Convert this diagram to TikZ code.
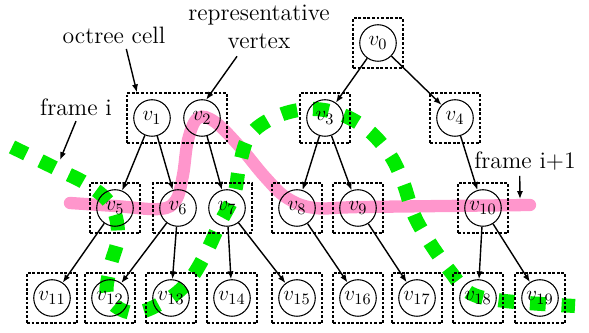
\documentclass[tikz,border=0pt]{standalone}
\usepackage{amsmath}
\usetikzlibrary{arrows.meta,fit}
\definecolor{pinkpath}{RGB}{255,150,204}
\definecolor{greenpath}{RGB}{0,235,0}
\pgfdeclarelayer{background}
\pgfsetlayers{background,main}
\tikzset{
  vert/.style={circle, draw, line width=0.6pt, minimum size=20.8pt, inner sep=0pt, font=\fontsize{13}{15}\selectfont},
  cellbox/.style={draw, line width=0.8pt, dash pattern=on 1.6pt off 1pt, inner sep=3.5pt},
  edge/.style={-{Latex[length=4.5pt,width=3.5pt]}, line width=0.8pt},
  lbl/.style={font=\fontsize{13.5}{16}\selectfont, align=center, inner sep=1pt},
  framepink/.style={pinkpath, line width=7pt, line cap=round},
  framegreen/.style={greenpath, line width=8pt, dash pattern=on 9pt off 9pt}
}
\begin{document}
\begin{tikzpicture}[x=0.02cm, y=-0.02cm]
    \useasboundingbox (0,0) rectangle (589,333);

    % Root
    \node[vert] (v0) at (378,43) {$v_0$};
    \node[cellbox, fit=(v0)] (c0) {};

    % Level 1
    \node[vert] (v1) at (152,118) {$v_1$};
    \node[vert] (v2) at (202,118) {$v_2$};
    \node[vert] (v3) at (325,118) {$v_3$};
    \node[vert] (v4) at (455,118) {$v_4$};
    \node[cellbox, fit=(v1)(v2)] (c1and2) {};
    \node[cellbox, fit=(v3)] (c3) {};
    \node[cellbox, fit=(v4)] (c4) {};

    % Level 2
    \node[vert] (v5) at (115,208) {$v_5$};
    \node[vert] (v6) at (178,208) {$v_6$};
    \node[vert] (v7) at (227,208) {$v_7$};
    \node[vert] (v8) at (297,208) {$v_8$};
    \node[vert] (v9) at (358,208) {$v_9$};
    \node[vert] (v10) at (483,208) {$v_{10}$};
    \node[cellbox, fit=(v5)] (c5) {};
    \node[cellbox, fit=(v6)(v7)] (c6and7) {};
    \node[cellbox, fit=(v8)] (c8) {};
    \node[cellbox, fit=(v9)] (c9) {};
    \node[cellbox, fit=(v10)] (c10) {};

    % Level 3
    \foreach \n/\x in {11/52, 12/110, 13/171, 14/232, 15/297, 16/358, 17/417, 18/478, 19/540} {
        \node[vert] (v\n) at (\x,298) {$v_{\n}$};
        \node[cellbox, fit=(v\n)] (c\n) {};
    }

    % Tree edges
    \foreach \a/\b in {v0/v3, v0/v4, v1/v5, v1/v6, v2/v7, v3/v8, v3/v9, v4/v10,
                       v5/v11, v6/v12, v6/v13, v7/v14, v7/v15, v8/v16, v9/v17,
                       v10/v18, v10/v19}
        \draw[edge] (\a) -- (\b);

    % Labels
    \node[lbl] (lblcell) at (114,35) {octree cell};
    \node[lbl] (lblrep) at (259,27) {representative\\vertex};
    \node[lbl] (lblframei) at (76,107) {frame i};
    \node[lbl] (lblframej) at (525,161) {frame i+1};
    \coordinate (framei) at (60,160);
    \coordinate (framej) at (520,199);
    \draw[edge] ([xshift=7pt, yshift=-2pt]lblcell.south) -- ([xshift=6pt]c1and2.north west);
    \draw[edge] ([xshift=-12.5pt, yshift=-3pt]lblrep.south) -- (v2.77);
    \draw[edge] ([yshift=-2pt]lblframei.south) -- (framei);
    \draw[edge] ([xshift=-3pt, yshift=-2pt]lblframej.south) -- (framej);

    % Frame cuts
    \begin{pgfonlayer}{background}
        \draw[framepink] plot[smooth, tension=0.6] coordinates {(70,203) (115,206) (160,209) (176,200) (183,175) (188,140) (198,118) (215,122) (240,147) (265,177) (287,198) (315,208) (363,207) (530,205)};
        \draw[framegreen] plot[smooth, tension=0.6] coordinates {(12,147) (55,168) (90,186) (112,207) (118,237) (110,268) (108,298) (133,313) (165,301) (188,282) (205,255) (220,223) (234,195) (240,163) (250,135) (275,117) (308,109) (340,114) (368,130) (390,155) (403,182) (414,215) (430,243) (450,271) (470,293) (505,301) (575,306)};
    \end{pgfonlayer}
\end{tikzpicture}
\end{document}
